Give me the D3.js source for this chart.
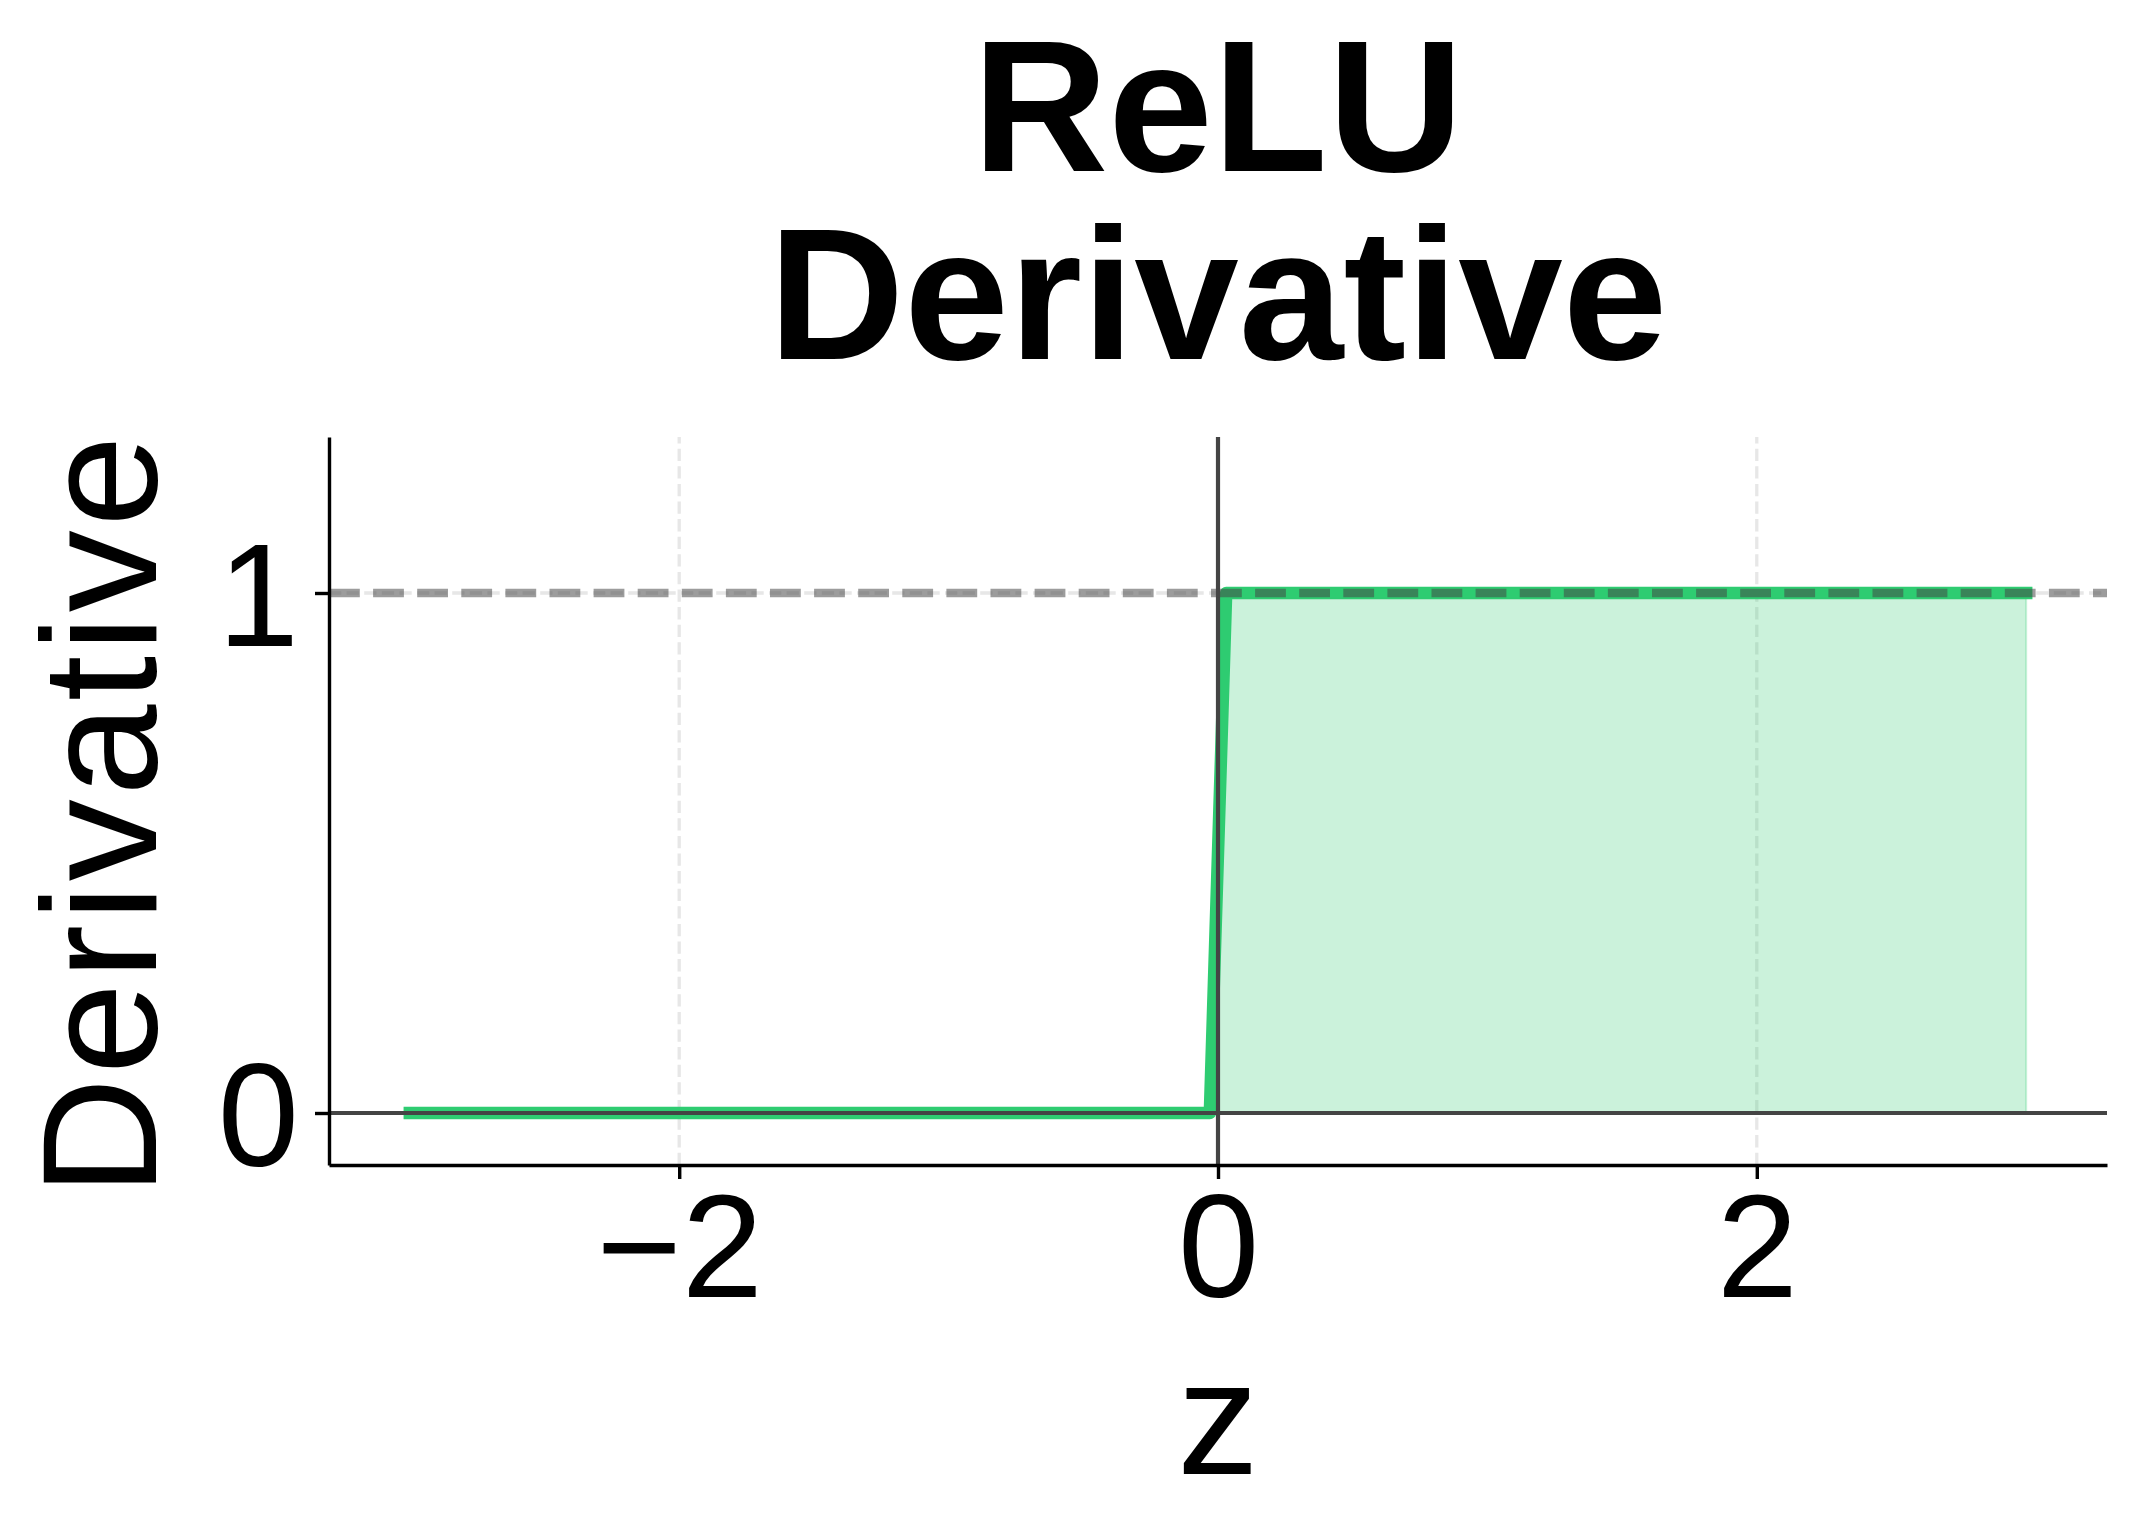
<!DOCTYPE html>
<html>
<head>
<meta charset="utf-8">
<script src="https://cdn.jsdelivr.net/npm/d3@7"></script>
<style>
  html, body { margin: 0; padding: 0; background: #fff; }
  svg { display: block; font-family: "Liberation Sans", Arial, sans-serif; }
</style>
</head>
<body>
<svg id="chart" width="2134" height="1534"></svg>
<script>
// step of the ReLU derivative (line vertices as seen in the picture)
const zValues = [-3, -0.0303, 0.0303, 3];
const derivValues = [0, 0, 1, 1];

const xTicks = [-2, 0, 2];
const xTickLabels = ['\u22122', '0', '2'];
const yTicks = [0, 1];
const yTickLabels = ['0', '1'];

const titleLines = ['ReLU', 'Derivative'];
const xLabel = 'z';
const yLabel = 'Derivative';

const W = 2134, H = 1534;
const margin = { left: 329, right: 27, top: 437, bottom: 369 };
const green = '#2ecc71';

const svg = d3.select('#chart');

const x = d3.scaleLinear().domain([-3.3, 3.3]).range([margin.left, W - margin.right]);
const y = d3.scaleLinear().domain([-0.1, 1.3]).range([H - margin.bottom, margin.top]);

const data = zValues.map((z, i) => ({ z: z, d: derivValues[i] }));

// grid
const grid = svg.append('g')
  .attr('stroke', '#b0b0b0')
  .attr('stroke-opacity', 0.3)
  .attr('stroke-width', 3.3)
  .attr('stroke-dasharray', '12.3 5.3');
grid.selectAll('.gx').data(xTicks).enter().append('line')
  .attr('x1', d => x(d)).attr('x2', d => x(d))
  .attr('y1', y.range()[0]).attr('y2', y.range()[1]);
grid.selectAll('.gy').data(yTicks).enter().append('line')
  .attr('y1', d => y(d)).attr('y2', d => y(d))
  .attr('x1', x.range()[0]).attr('x2', x.range()[1]);

// filled area under curve
const area = d3.area()
  .x(d => x(d.z))
  .y0(y(0))
  .y1(d => y(d.d));
svg.append('path')
  .datum(data)
  .attr('d', area)
  .attr('fill', green)
  .attr('fill-opacity', 0.25)
  .attr('stroke', green)
  .attr('stroke-opacity', 0.25)
  .attr('stroke-width', 2);

// the derivative line
const line = d3.line().x(d => x(d.z)).y(d => y(d.d));
svg.append('path')
  .datum(data)
  .attr('d', line)
  .attr('fill', 'none')
  .attr('stroke', green)
  .attr('stroke-width', 12.5)
  .attr('stroke-linecap', 'square')
  .attr('stroke-linejoin', 'round');

// reference lines at y=0 and z=0
svg.append('line')
  .attr('x1', x.range()[0]).attr('x2', x.range()[1])
  .attr('y1', y(0)).attr('y2', y(0))
  .attr('stroke', '#444').attr('stroke-width', 4.2);
svg.append('line')
  .attr('x1', x(0)).attr('x2', x(0))
  .attr('y1', y.range()[0]).attr('y2', y.range()[1])
  .attr('stroke', '#444').attr('stroke-width', 4.2);

// dashed line at y=1
svg.append('line')
  .attr('x1', x.range()[0]).attr('x2', x.range()[1])
  .attr('y1', y(1)).attr('y2', y(1))
  .attr('stroke', '#444').attr('stroke-opacity', 0.53)
  .attr('stroke-width', 8.5)
  .attr('stroke-dasharray', '30.8 13.3');

// axes
const xAxis = d3.axisBottom(x)
  .tickValues(xTicks)
  .tickFormat((d, i) => xTickLabels[i])
  .tickSize(14).tickPadding(14).tickSizeOuter(0);
const yAxis = d3.axisLeft(y)
  .tickValues(yTicks)
  .tickFormat((d, i) => yTickLabels[i])
  .tickSize(14).tickPadding(16).tickSizeOuter(0);

const gx = svg.append('g')
  .attr('transform', 'translate(0,' + (H - margin.bottom) + ')')
  .call(xAxis);
const gy = svg.append('g')
  .attr('transform', 'translate(' + margin.left + ',0)')
  .call(yAxis);

[gx, gy].forEach(g => {
  g.select('.domain').attr('stroke', '#000').attr('stroke-width', 3.4);
  g.selectAll('.tick line').attr('stroke', '#000').attr('stroke-width', 3.4);
  g.selectAll('.tick text')
    .attr('fill', '#000')
    .style('font-family', '"Liberation Sans", Arial, sans-serif')
    .style('font-size', '146px');
});
gy.selectAll('.tick text').attr('dy', '0.36em');

// labels
svg.append('text')
  .attr('x', x(0))
  .attr('y', 1474)
  .attr('text-anchor', 'middle')
  .style('font-size', '163px')
  .text(xLabel);

svg.append('text')
  .attr('transform', 'translate(156,814) rotate(-90)')
  .attr('text-anchor', 'middle')
  .style('font-size', '164px')
  .style('letter-spacing', '3.5px')
  .text(yLabel);

// title, one text per line
svg.selectAll('.title')
  .data(titleLines)
  .enter().append('text')
  .attr('class', 'title')
  .attr('x', (x.range()[0] + x.range()[1]) / 2)
  .attr('y', (d, i) => 171 + i * 188)
  .attr('text-anchor', 'middle')
  .style('font-size', '188px')
  .style('font-weight', 'bold')
  .text(d => d);
</script>
</body>
</html>
